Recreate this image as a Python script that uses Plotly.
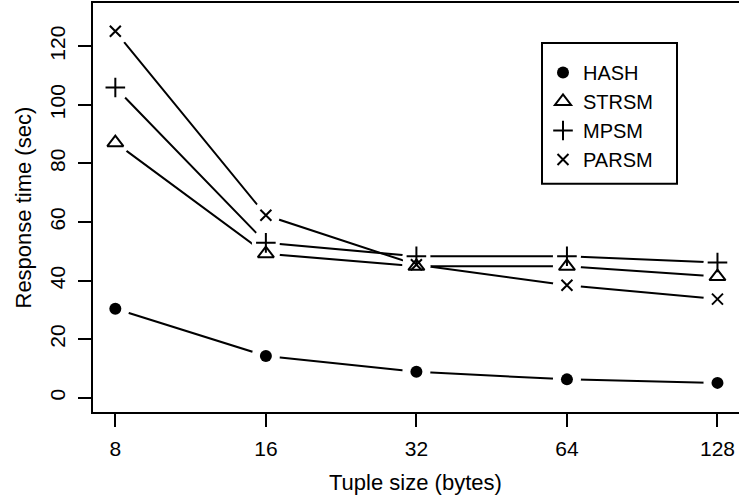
import math
import plotly.graph_objects as go

# Tuple sizes (bytes) and response times (sec) per join algorithm
tuple_sizes = [8, 16, 32, 64, 128]
hash_times = [30.4, 14.3, 8.9, 6.3, 5.1]
strsm_times = [87.1, 49.2, 44.9, 44.9, 41.4]
mpsm_times = [105.9, 52.9, 48.3, 48.3, 46.2]
parsm_times = [125.1, 62.3, 45.4, 38.4, 33.7]

x_tick_labels = ["8", "16", "32", "64", "128"]
y_tick_values = [0, 20, 40, 60, 80, 100, 120]

series = [
    ("HASH", hash_times, dict(symbol="circle", size=12, color="black")),
    ("STRSM", strsm_times, dict(symbol="triangle-up-open", size=14, color="black",
                                line=dict(width=2, color="black"))),
    ("MPSM", mpsm_times, dict(symbol="cross-thin-open", size=14, color="black",
                              line=dict(width=2, color="black"))),
    ("PARSM", parsm_times, dict(symbol="x-thin-open", size=11, color="black",
                                line=dict(width=2, color="black"))),
]

FONT = "Liberation Sans, Arial, Helvetica, sans-serif"

fig = go.Figure()

# connecting lines
for name, vals, _ in series:
    fig.add_trace(go.Scatter(x=tuple_sizes, y=vals, mode="lines",
                             line=dict(color="black", width=2),
                             showlegend=False, hoverinfo="skip"))

# white discs leave a small gap in the lines around each point (type="b" look)
for name, vals, _ in series:
    fig.add_trace(go.Scatter(x=tuple_sizes, y=vals, mode="markers",
                             marker=dict(symbol="circle", size=28, color="white",
                                         line=dict(width=0)),
                             showlegend=False, hoverinfo="skip"))

# point symbols
for name, vals, marker in series:
    fig.add_trace(go.Scatter(x=tuple_sizes, y=vals, mode="markers", name=name,
                             marker=marker))

W, H = 739, 500
L, R, T, B = 92, 0, 2, 86.5
pw, ph = W - L - R, H - T - B


def px_x(p):
    return (p - L) / pw


def px_y(p):
    return 1 - (p - T) / ph


fig.update_layout(
    width=W, height=H,
    margin=dict(l=L, r=R, t=T, b=B, pad=0),
    paper_bgcolor="white", plot_bgcolor="white",
    font=dict(family=FONT, size=21, color="black"),
    showlegend=True,
    legend=dict(x=px_x(543), y=px_y(53), xanchor="left", yanchor="top",
                bgcolor="rgba(0,0,0,0)", borderwidth=0,
                font=dict(family=FONT, size=20, color="black"),
                itemsizing="trace", tracegroupgap=0),
    xaxis=dict(type="log",
               range=[2.845 * math.log10(2), 7.143 * math.log10(2)],
               tickvals=tuple_sizes, ticktext=x_tick_labels,
               ticks="outside", ticklen=13, tickwidth=2, tickcolor="black",
               ticklabelstandoff=4,
               showgrid=False, zeroline=False, showline=False,
               tickfont=dict(family=FONT, size=21)),
    yaxis=dict(range=[-5.18, 135.1],
               tickvals=y_tick_values,
               ticks="outside", ticklen=13, tickwidth=2, tickcolor="black",
               tickangle=-90, ticklabelstandoff=5,
               showgrid=False, zeroline=False, showline=False,
               tickfont=dict(family=FONT, size=21)),
    shapes=[
        # plot frame
        dict(type="rect", xref="paper", yref="paper", x0=0, x1=1.004, y0=0, y1=1,
             line=dict(color="black", width=2), fillcolor="rgba(0,0,0,0)"),
        # legend frame
        dict(type="rect", xref="paper", yref="paper",
             x0=px_x(542), x1=px_x(677), y0=px_y(184), y1=px_y(43),
             line=dict(color="black", width=2), fillcolor="white", layer="above"),
    ],
    annotations=[
        dict(text="Tuple size (bytes)", xref="paper", yref="paper", x=0.5, y=0,
             xanchor="center", yanchor="middle", yshift=-(483 - (H - B)),
             showarrow=False, font=dict(family=FONT, size=22)),
        dict(text="Response time (sec)", xref="paper", yref="paper", x=0, y=0.5,
             xanchor="center", yanchor="middle", xshift=-(L - 23), textangle=-90,
             showarrow=False, font=dict(family=FONT, size=22)),
    ],
)

fig.write_html("out.html")
